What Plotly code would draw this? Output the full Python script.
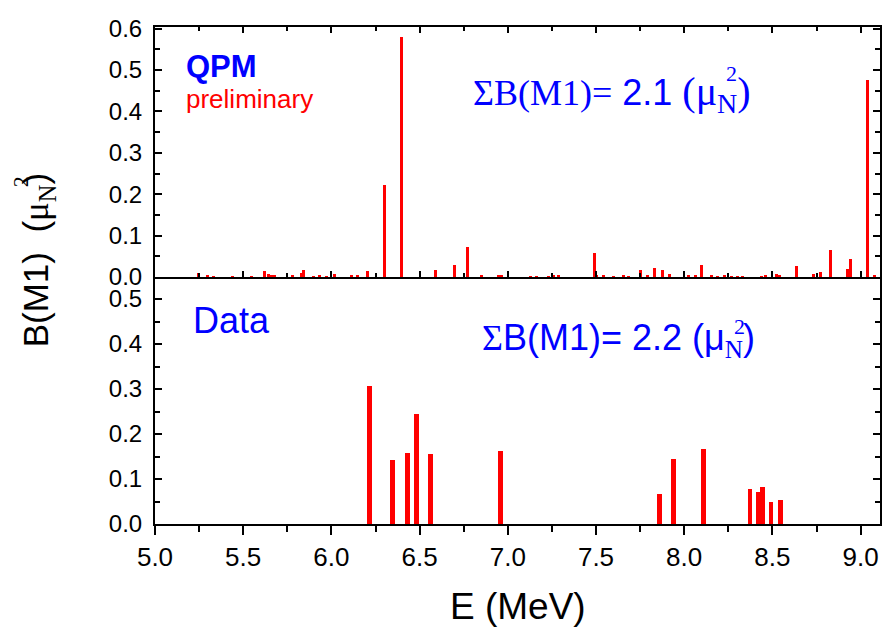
import plotly.graph_objects as go

# QPM calculation: excitation energy (MeV) and B(M1) strength (mu_N^2)
qpm_energy = [5.245, 5.295, 5.33, 5.44, 5.546, 5.621, 5.646, 5.66, 5.68, 5.778,
              5.829, 5.842, 5.90, 5.93, 5.97, 6.017, 6.112, 6.15, 6.206, 6.300,
              6.395, 6.588, 6.700, 6.771, 6.852, 6.950, 6.962, 7.129, 7.160, 7.233,
              7.261, 7.290, 7.489, 7.500, 7.544, 7.600, 7.657, 7.685, 7.751, 7.794,
              7.830, 7.877, 7.915, 8.024, 8.062, 8.096, 8.156, 8.190, 8.228, 8.270,
              8.300, 8.330, 8.440, 8.460, 8.523, 8.540, 8.636, 8.731, 8.774, 8.831,
              8.925, 8.944, 9.038, 9.080]
qpm_bm1 = [0.010, 0.003, 0.002, 0.002, 0.002, 0.015, 0.008, 0.004, 0.003, 0.005,
           0.010, 0.016, 0.002, 0.003, 0.002, 0.008, 0.005, 0.004, 0.015, 0.222,
           0.580, 0.018, 0.030, 0.073, 0.005, 0.006, 0.004, 0.002, 0.002, 0.002,
           0.003, 0.003, 0.059, 0.005, 0.003, 0.002, 0.003, 0.002, 0.018, 0.004,
           0.021, 0.018, 0.008, 0.004, 0.005, 0.028, 0.003, 0.002, 0.004, 0.002,
           0.002, 0.002, 0.002, 0.003, 0.007, 0.003, 0.026, 0.008, 0.013, 0.065,
           0.019, 0.044, 0.476, 0.004]

# Measured transitions
data_energy = [6.215, 6.345, 6.434, 6.483, 6.560, 6.958, 7.860, 7.937, 8.109,
               8.373, 8.420, 8.444, 8.492, 8.546]
data_bm1 = [0.307, 0.142, 0.158, 0.245, 0.156, 0.163, 0.067, 0.145, 0.167,
            0.077, 0.072, 0.083, 0.050, 0.054]

x_ticks = [5.0, 5.5, 6.0, 6.5, 7.0, 7.5, 8.0, 8.5, 9.0]
top_y_ticks = [0.0, 0.1, 0.2, 0.3, 0.4, 0.5, 0.6]
bottom_y_ticks = [0.0, 0.1, 0.2, 0.3, 0.4, 0.5]

RED = "#FF0000"
BLUE = "#0000FF"
SANS = "Liberation Sans, Arial, sans-serif"
SERIF = "Liberation Serif, Times New Roman, serif"

fig = go.Figure()
fig.add_trace(go.Bar(x=qpm_energy, y=qpm_bm1, width=[0.017] * len(qpm_energy),
                     marker=dict(color=RED, line=dict(width=0)),
                     xaxis="x2", yaxis="y2", showlegend=False))
fig.add_trace(go.Bar(x=data_energy, y=data_bm1, width=[0.028] * len(data_energy),
                     marker=dict(color=RED, line=dict(width=0)),
                     xaxis="x", yaxis="y", showlegend=False))

split = 0.497
common_x = dict(range=[5.0, 9.11], tickvals=x_ticks, showgrid=False, zeroline=False,
                showline=True, linewidth=2, linecolor="black",
                tickwidth=2, tickcolor="black")
common_y = dict(showgrid=False, zeroline=False, showline=True, linewidth=2,
                linecolor="black", ticks="inside", ticklen=7, tickwidth=2,
                tickcolor="black", mirror="ticks", tickformat=".1f",
                ticklabelstandoff=6,
                tickfont=dict(family=SANS, size=24, color="black"),
                minor=dict(dtick=0.05, ticks="inside", ticklen=5, tickwidth=2,
                           tickcolor="black"))

fig.update_layout(
    width=886, height=634,
    margin=dict(l=155, r=4, t=27, b=110),
    paper_bgcolor="white", plot_bgcolor="white",
    bargap=0,
    # lower panel: labelled energy axis; its upper edge is the QPM panel's axis line
    xaxis=dict(**common_x, anchor="y", ticks="outside", ticklen=9, mirror=False,
               tickformat=".1f",
               tickfont=dict(family=SANS, size=26, color="black"),
               minor=dict(dtick=0.25, ticks="outside", ticklen=6, tickwidth=2,
                          tickcolor="black")),
    xaxis2=dict(**common_x, anchor="y2", matches="x", ticks="inside", ticklen=6,
                mirror="ticks", showticklabels=False,
                minor=dict(dtick=0.25, ticks="inside", ticklen=4, tickwidth=2,
                           tickcolor="black")),
    yaxis=dict(**common_y, domain=[0, split], range=[0, 0.549],
               tickvals=bottom_y_ticks),
    yaxis2=dict(**common_y, domain=[split, 1], range=[0, 0.604],
                tickvals=top_y_ticks),
)

def px_x(px):
    return (px - 155) / 727.0

def px_y(py):
    return (524 - py) / 497.0

notes = [
    dict(text="<b>QPM</b>", x=px_x(184), y=px_y(67), xanchor="left", yanchor="middle",
         font=dict(family=SANS, size=31, color=BLUE)),
    dict(text="preliminary", x=px_x(184), y=px_y(99), xanchor="left", yanchor="middle",
         font=dict(family=SANS, size=26, color=RED)),
    dict(text=("ΣB(M1)=<span style='font-family:Liberation Sans'> 2.1 </span>"
               "<span style='font-size:40px'>(μ<sub>N</sub>)</span>"),
         x=px_x(755), y=px_y(94), xanchor="right", yanchor="middle",
         font=dict(family=SERIF, size=36, color=BLUE)),
    dict(text="2", x=px_x(733), y=px_y(73), xanchor="center", yanchor="middle",
         font=dict(family=SERIF, size=22, color=BLUE)),
    dict(text="Data", x=px_x(191), y=px_y(320), xanchor="left", yanchor="middle",
         font=dict(family=SANS, size=36, color=BLUE)),
    dict(text=("<span style='font-family:Liberation Serif'>Σ</span>B(M1)= 2.2 (μ"
               "<span style='font-family:Liberation Serif'><sub>N</sub></span>)"),
         x=px_x(759), y=px_y(340), xanchor="right", yanchor="middle",
         font=dict(family=SANS, size=36, color=BLUE)),
    dict(text="2", x=px_x(741), y=px_y(326), xanchor="center", yanchor="middle",
         font=dict(family=SERIF, size=22, color=BLUE)),
    dict(text=("B(M1)  (<span style='font-family:Liberation Serif'>μ"
               "<sub>N</sub></span>)"),
         x=px_x(38), y=px_y(260), xanchor="center", yanchor="middle", textangle=-90,
         font=dict(family=SANS, size=35, color="black")),
    dict(text="2", x=px_x(20), y=px_y(182), xanchor="center", yanchor="middle",
         textangle=-90, font=dict(family=SERIF, size=22, color="black")),
    dict(text="E (MeV)", x=0.5, y=px_y(606), xanchor="center", yanchor="middle",
         font=dict(family=SANS, size=37, color="black")),
]
for n in notes:
    fig.add_annotation(xref="paper", yref="paper", showarrow=False, **n)

fig.write_html("out.html")
